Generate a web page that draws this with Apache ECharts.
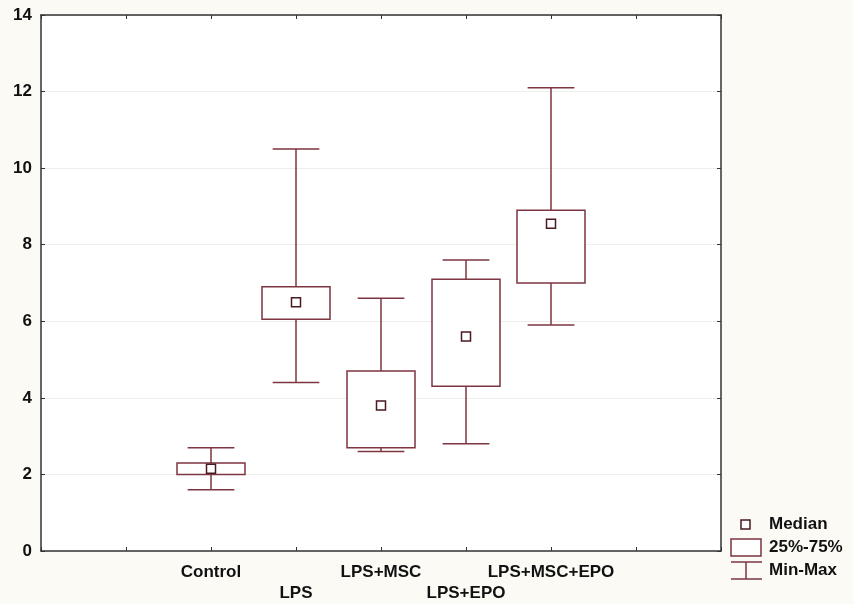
<!DOCTYPE html>
<html>
<head>
<meta charset="utf-8">
<script src="https://cdn.jsdelivr.net/npm/echarts@6/dist/echarts.min.js"></script>
<style>
html,body{margin:0;padding:0;background:#fbfaf5;}
#c{width:853px;height:604px;}
</style>
</head>
<body>
<div id="c"></div>
<script>
var categories = ['Control', 'LPS', 'LPS+MSC', 'LPS+EPO', 'LPS+MSC+EPO'];
var positions = [2, 3, 4, 5, 6];
var mins = [1.6, 4.4, 2.6, 2.8, 5.9];
var q1s = [2.0, 6.05, 2.7, 4.3, 7.0];
var medians = [2.15, 6.5, 3.8, 5.6, 8.55];
var q3s = [2.3, 6.9, 4.7, 7.1, 8.9];
var maxs = [2.7, 10.5, 6.6, 7.6, 12.1];
var yTicks = [0, 2, 4, 6, 8, 10, 12, 14];
var legendLabels = ['Median', '25%-75%', 'Min-Max'];

var lineColor = '#7d3540';
var medColor = '#4a1a20';
var font = 'Liberation Sans, Arial, sans-serif';

var data = categories.map(function (c, i) {
  return [positions[i], mins[i], q1s[i], medians[i], q3s[i], maxs[i]];
});

function renderItem(params, api) {
  var x = api.value(0);
  var pMin = api.coord([x, api.value(1)]);
  var pQ1 = api.coord([x, api.value(2)]);
  var pMed = api.coord([x, api.value(3)]);
  var pQ3 = api.coord([x, api.value(4)]);
  var pMax = api.coord([x, api.value(5)]);
  var unit = api.size([1, 0])[0];
  var bw = unit * 0.8;
  var cw = unit * 0.55;
  var cx = pMed[0];
  var st = {stroke: lineColor, lineWidth: 1.5, fill: null};
  return {
    type: 'group',
    children: [
      {type: 'line', shape: {x1: cx, y1: pMax[1], x2: cx, y2: pQ3[1]}, style: st},
      {type: 'line', shape: {x1: cx, y1: pQ1[1], x2: cx, y2: pMin[1]}, style: st},
      {type: 'line', shape: {x1: cx - cw / 2, y1: pMax[1], x2: cx + cw / 2, y2: pMax[1]}, style: st},
      {type: 'line', shape: {x1: cx - cw / 2, y1: pMin[1], x2: cx + cw / 2, y2: pMin[1]}, style: st},
      {type: 'rect', shape: {x: cx - bw / 2, y: pQ3[1], width: bw, height: pQ1[1] - pQ3[1]},
        style: {stroke: lineColor, lineWidth: 1.5, fill: '#ffffff'}},
      {type: 'rect', shape: {x: cx - 4.5, y: pMed[1] - 4.5, width: 9, height: 9},
        style: {stroke: medColor, lineWidth: 1.5, fill: '#ffffff'}}
    ]
  };
}

var chart = echarts.init(document.getElementById('c'));
var lx = 731, ly = 515;
var lfont = 'bold 17px ' + font;
chart.setOption({
  backgroundColor: '#fbfaf5',
  animation: false,
  grid: {left: 41, right: 132, top: 15, bottom: 53, show: true, backgroundColor: '#ffffff', borderWidth: 0},
  xAxis: [{
    type: 'value', min: 0, max: 8, interval: 1, position: 'bottom',
    axisLine: {onZero: false, lineStyle: {color: '#333', width: 1.5}},
    axisTick: {inside: true, length: 4, lineStyle: {color: '#333'}},
    splitLine: {show: false},
    axisLabel: {
      margin: 11, fontFamily: font, fontSize: 17, fontWeight: 'bold', color: '#111', lineHeight: 21,
      showMinLabel: true, showMaxLabel: true,
      formatter: function (v) {
        var i = positions.indexOf(v);
        if (i < 0) return '';
        return (i % 2 === 1 ? '\n' : '') + categories[i];
      }
    }
  }, {
    type: 'value', min: 0, max: 8, interval: 1, position: 'top',
    axisLine: {onZero: false, lineStyle: {color: '#333', width: 1.5}},
    axisTick: {inside: true, length: 4, lineStyle: {color: '#333'}},
    axisLabel: {show: false}, splitLine: {show: false}
  }],
  yAxis: [{
    type: 'value', min: yTicks[0], max: yTicks[yTicks.length - 1], interval: 2,
    axisLine: {show: true, onZero: false, lineStyle: {color: '#333', width: 1.5}},
    axisTick: {show: true, inside: true, length: 4, lineStyle: {color: '#333'}},
    splitLine: {show: true, lineStyle: {color: '#eeeeea', width: 1}},
    axisLabel: {margin: 9, fontFamily: font, fontSize: 17, fontWeight: 'bold', color: '#111'}
  }, {
    type: 'value', min: yTicks[0], max: yTicks[yTicks.length - 1], interval: 2, position: 'right',
    axisLine: {show: true, onZero: false, lineStyle: {color: '#333', width: 1.5}},
    axisTick: {show: true, inside: true, length: 4, lineStyle: {color: '#333'}},
    axisLabel: {show: false}, splitLine: {show: false}
  }],
  series: [{
    type: 'custom', renderItem: renderItem, data: data,
    encode: {x: 0, y: [1, 2, 3, 4, 5]}
  }],
  graphic: [
    {type: 'rect', shape: {x: lx + 10, y: ly + 5, width: 9, height: 9}, style: {stroke: medColor, lineWidth: 1.5, fill: '#fff'}},
    {type: 'rect', shape: {x: lx, y: ly + 24, width: 30, height: 17}, style: {stroke: lineColor, lineWidth: 1.5, fill: '#fff'}},
    {type: 'line', shape: {x1: lx, y1: ly + 47, x2: lx + 31, y2: ly + 47}, style: {stroke: lineColor, lineWidth: 1.5}},
    {type: 'line', shape: {x1: lx, y1: ly + 64, x2: lx + 31, y2: ly + 64}, style: {stroke: lineColor, lineWidth: 1.5}},
    {type: 'line', shape: {x1: lx + 15, y1: ly + 47, x2: lx + 15, y2: ly + 64}, style: {stroke: lineColor, lineWidth: 1.5}},
    {type: 'text', x: lx + 38, y: ly + 9, style: {text: legendLabels[0], font: lfont, fill: '#111', verticalAlign: 'middle'}},
    {type: 'text', x: lx + 38, y: ly + 32, style: {text: legendLabels[1], font: lfont, fill: '#111', verticalAlign: 'middle'}},
    {type: 'text', x: lx + 38, y: ly + 55, style: {text: legendLabels[2], font: lfont, fill: '#111', verticalAlign: 'middle'}}
  ]
});
</script>
</body>
</html>
